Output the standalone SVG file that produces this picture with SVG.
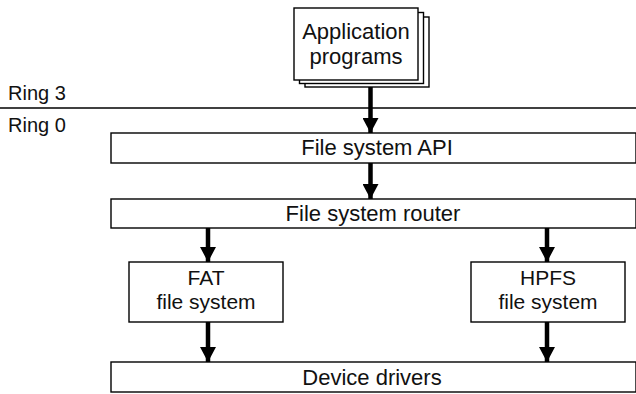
<svg xmlns="http://www.w3.org/2000/svg" width="636" height="394" viewBox="0 0 636 394">
<defs>
<style>
.box{fill:#fff;stroke:#000;stroke-width:1.4}
.t{font-family:"Liberation Sans",Arial,sans-serif;font-size:22px;fill:#111;text-anchor:middle}
.t2{font-size:21px}
.lbl{font-family:"Liberation Sans",Arial,sans-serif;font-size:20px;fill:#111}
.stem{stroke:#000;stroke-width:4.5;fill:none}
</style>
<marker id="ah" markerUnits="userSpaceOnUse" markerWidth="16" markerHeight="16" refX="15" refY="8" orient="auto">
<path d="M0,0 L15,8 L0,16 Z" fill="#000"/>
</marker>
</defs>
<rect width="636" height="394" fill="#fff"/>
<g id="rings">
<text class="lbl" x="8" y="100">Ring 3</text>
<line x1="0" y1="108" x2="636" y2="108" stroke="#000" stroke-width="1.5"/>
<text class="lbl" x="8" y="132">Ring 0</text>
</g>
<g id="app">
<rect class="box" x="305" y="17" width="124" height="70"/>
<rect class="box" x="299.5" y="12.5" width="124" height="71"/>
<rect class="box" x="294" y="8" width="124" height="72"/>
<text class="t" x="356" y="39" style="font-size:22px">Application</text>
<text class="t" x="356" y="64" style="font-size:22px">programs</text>
</g>
<g id="api">
<rect class="box" x="111" y="133" width="525" height="30"/>
<text class="t" x="377" y="155">File system API</text>
</g>
<g id="router">
<rect class="box" x="111" y="199" width="525" height="29"/>
<text class="t" x="373" y="221">File system router</text>
</g>
<g id="fat">
<rect class="box" x="129" y="262" width="154" height="60"/>
<text class="t t2" x="206" y="285">FAT</text>
<text class="t t2" x="206" y="309">file system</text>
</g>
<g id="hpfs">
<rect class="box" x="471" y="262" width="154" height="60"/>
<text class="t t2" x="548" y="285">HPFS</text>
<text class="t t2" x="548" y="309">file system</text>
</g>
<g id="drivers">
<rect class="box" x="111" y="362" width="525" height="30"/>
<text class="t" x="372" y="385">Device drivers</text>
</g>
<g id="connectors">
<line class="stem" x1="370.5" y1="87" x2="370.5" y2="133" marker-end="url(#ah)"/>
<line class="stem" x1="370.5" y1="163" x2="370.5" y2="199" marker-end="url(#ah)"/>
<line class="stem" x1="208" y1="228" x2="208" y2="262" marker-end="url(#ah)"/>
<line class="stem" x1="547" y1="228" x2="547" y2="262" marker-end="url(#ah)"/>
<line class="stem" x1="208" y1="322" x2="208" y2="362" marker-end="url(#ah)"/>
<line class="stem" x1="547" y1="322" x2="547" y2="362" marker-end="url(#ah)"/>
</g>
</svg>
